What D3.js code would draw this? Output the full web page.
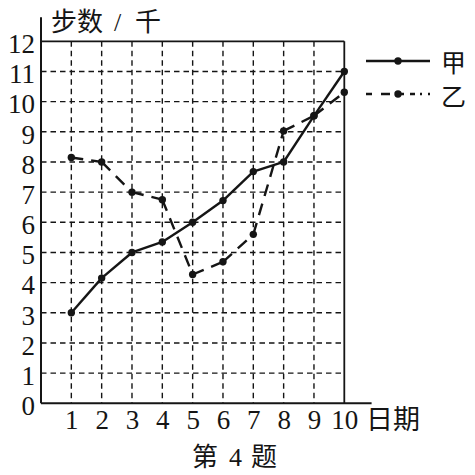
<!DOCTYPE html>
<html>
<head>
<meta charset="utf-8">
<script src="https://cdn.jsdelivr.net/npm/d3@7"></script>
<style>
html,body{margin:0;padding:0;background:#fff;}
svg{display:block;}
</style>
</head>
<body>
<svg id="chart" width="475" height="475"></svg>
<script>
const days = [1,2,3,4,5,6,7,8,9,10];
const jia = [3, 4.15, 5, 5.35, 6, 6.72, 7.68, 8, 9.53, 11];
const yi  = [8.15, 8, 7, 6.75, 4.27, 4.69, 5.6, 9.03, 9.53, 10.31];
const yTicks = [0,1,2,3,4,5,6,7,8,9,10,11,12];
const xTicks = [1,2,3,4,5,6,7,8,9,10];
const seriesNames = ["甲","乙"];
const yTitleParts = ["步数", "/", "千"];
const xTitle = "日期";
const captionParts = ["第", "4", "题"];

const svg = d3.select("#chart");
const ink = "#151515";
const serif = "Liberation Serif";
const cjk = "Noto Sans CJK SC";

const x = d3.scaleLinear().domain([0,10]).range([41, 344.3]);
const y = d3.scaleLinear().domain([0,12]).range([403.3, 41.3]);

// grid
const g = svg.append("g");
g.selectAll("line.h").data(yTicks.filter(v=>v>0 && v<12)).enter().append("line")
  .attr("x1", x(0)).attr("x2", x(10)).attr("y1", d=>y(d)).attr("y2", d=>y(d))
  .attr("stroke", ink).attr("stroke-width", 1.4).attr("stroke-dasharray", "5.5,4");
g.selectAll("line.v").data(xTicks.filter(v=>v<10)).enter().append("line")
  .attr("x1", d=>x(d)).attr("x2", d=>x(d)).attr("y1", y(12)).attr("y2", y(0))
  .attr("stroke", ink).attr("stroke-width", 1.4).attr("stroke-dasharray", "5.5,4");

// border top and right
g.append("line").attr("x1", x(0)).attr("x2", x(10)).attr("y1", y(12)).attr("y2", y(12))
  .attr("stroke", ink).attr("stroke-width", 1.8);
g.append("line").attr("x1", x(10)).attr("x2", x(10)).attr("y1", y(12)).attr("y2", y(0))
  .attr("stroke", ink).attr("stroke-width", 1.8);

// axes lines
g.append("line").attr("x1", x(0)).attr("x2", x(0)).attr("y1", y(0)).attr("y2", y(12.8))
  .attr("stroke", ink).attr("stroke-width", 2);
g.append("line").attr("x1", x(0)).attr("x2", x(10.9)).attr("y1", y(0)).attr("y2", y(0))
  .attr("stroke", ink).attr("stroke-width", 2);

// axis labels
const yAxis = svg.append("g").attr("transform", `translate(${x(0)-6},0)`)
  .call(d3.axisLeft(y).tickValues(yTicks).tickSize(0).tickPadding(0).tickFormat(d3.format("d")));
yAxis.attr("font-family", serif).attr("font-size", 27);
yAxis.select(".domain").remove();
yAxis.selectAll("text").attr("fill", ink).attr("dy", "0.42em");

const xAxis = svg.append("g").attr("transform", `translate(0,${y(0)})`)
  .call(d3.axisBottom(x).tickValues(xTicks).tickSize(0).tickPadding(6.5).tickFormat(d3.format("d")));
xAxis.attr("font-family", serif).attr("font-size", 27);
xAxis.select(".domain").remove();
xAxis.selectAll("text").attr("fill", ink);

// titles
const yt = svg.append("text").attr("y", 31).attr("font-size", 26).attr("fill", ink);
yt.append("tspan").attr("x", 51).attr("font-family", cjk).text(yTitleParts[0]);
yt.append("tspan").attr("x", 114).attr("font-family", serif).text(yTitleParts[1]);
yt.append("tspan").attr("x", 135).attr("font-family", cjk).text(yTitleParts[2]);

svg.append("text").attr("x", 366).attr("y", 429).attr("font-family", cjk).attr("font-size", 27)
  .attr("fill", ink).text(xTitle);
const cap = svg.append("text").attr("y", 466).attr("font-size", 26).attr("fill", ink);
cap.append("tspan").attr("x", 192).attr("font-family", cjk).text(captionParts[0]);
cap.append("tspan").attr("x", 229).attr("font-family", serif).text(captionParts[1]);
cap.append("tspan").attr("x", 251).attr("font-family", cjk).text(captionParts[2]);

// series
function drawSeries(vals, dash) {
  const pts = days.map((d,i)=>[x(d), y(vals[i])]);
  const sg = svg.append("g");
  for (let i=0;i<pts.length-1;i++) {
    sg.append("line").attr("x1", pts[i][0]).attr("y1", pts[i][1])
      .attr("x2", pts[i+1][0]).attr("y2", pts[i+1][1])
      .attr("stroke", ink).attr("stroke-width", 2.4)
      .attr("stroke-dasharray", dash || null);
  }
  sg.selectAll("circle").data(pts).enter().append("circle")
    .attr("cx", d=>d[0]).attr("cy", d=>d[1]).attr("r", 3.7).attr("fill", ink);
}
drawSeries(jia, null);
drawSeries(yi, "12,8");

// legend
const lg = svg.append("g");
lg.append("line").attr("x1", 366).attr("x2", 430).attr("y1", 61).attr("y2", 61)
  .attr("stroke", ink).attr("stroke-width", 2.4);
lg.append("circle").attr("cx", 398).attr("cy", 61).attr("r", 3.7).attr("fill", ink);
lg.append("line").attr("x1", 366).attr("x2", 430).attr("y1", 94).attr("y2", 94)
  .attr("stroke", ink).attr("stroke-width", 2.4).attr("stroke-dasharray", "6,9,9,5,9,6,5,5,2");
lg.append("circle").attr("cx", 398).attr("cy", 94).attr("r", 3.7).attr("fill", ink);
lg.append("text").attr("x", 441).attr("y", 72).attr("font-family", cjk).attr("font-size", 25)
  .attr("fill", ink).text(seriesNames[0]);
lg.append("text").attr("x", 441).attr("y", 106).attr("font-family", cjk).attr("font-size", 25)
  .attr("fill", ink).text(seriesNames[1]);
</script>
</body>
</html>
